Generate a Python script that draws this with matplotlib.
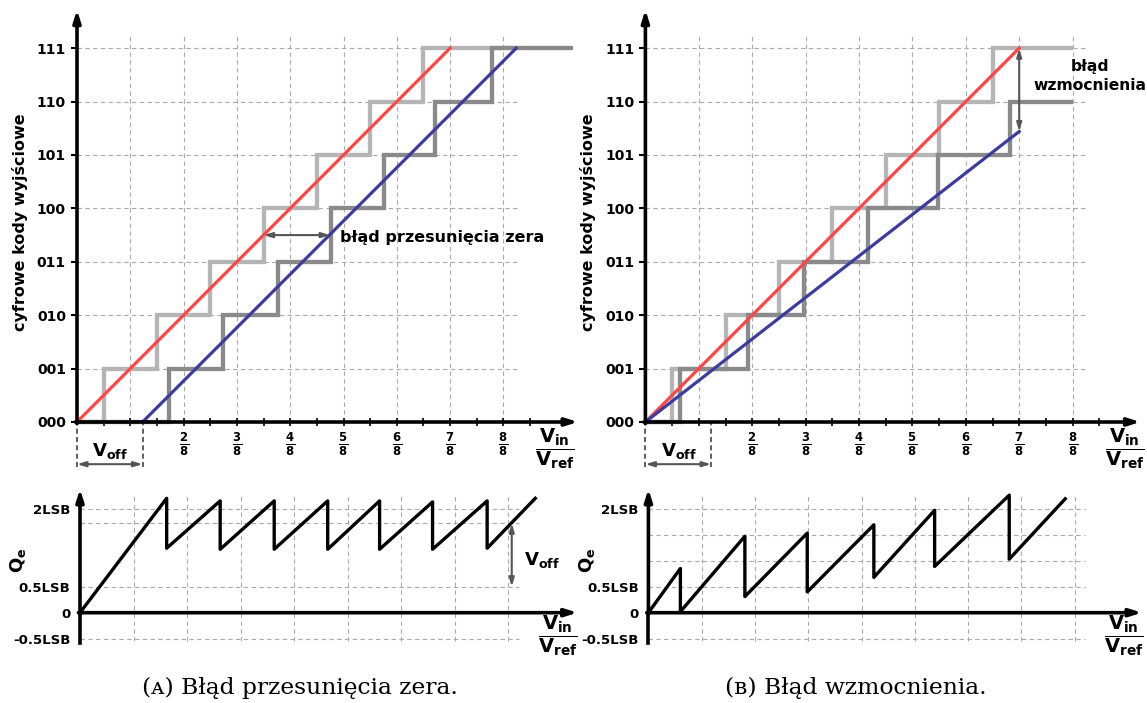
import numpy as np
import matplotlib.pyplot as plt

W, H = 1147, 703

# kody wyjsciowe przetwornika 3-bitowego, os x w jednostkach 1/8 Vref
kody = [0, 1, 2, 3, 4, 5, 6, 7]
kody_etykiety = ['000', '001', '010', '011', '100', '101', '110', '111']
ulamki = [2, 3, 4, 5, 6, 7, 8]
ulamki_etykiety = [r'$\mathbf{\frac{%d}{8}}$' % u for u in ulamki]

# charakterystyka idealna (progi przejsc)
progi_idealne = [0.5, 1.5, 2.5, 3.5, 4.5, 5.5, 6.5]
linia_idealna_x = [0, 7]
linia_idealna_y = [0, 7]

# (A) blad przesuniecia zera
v_off = 1.23
progi_offset = [1.72, 2.74, 3.77, 4.76, 5.76, 6.72, 7.78]
linia_offset_x = [1.23, 8.24]
linia_offset_y = [0, 7]

# (B) blad wzmocnienia
progi_wzm = [0.655, 1.93, 2.97, 4.16, 5.48, 6.83]
linia_wzm_x = [0, 7]
linia_wzm_y = [0, 5.44]

# blad kwantyzacji Qe [LSB]
qe_a_x = [0, 1.62, 1.62, 2.62, 2.62, 3.63, 3.63, 4.63, 4.63, 5.60, 5.60,
          6.59, 6.59, 7.61, 7.61, 8.51]
qe_a_y = [0, 2.2, 1.24, 2.15, 1.22, 2.15, 1.22, 2.15, 1.22, 2.15, 1.22,
          2.13, 1.22, 2.15, 1.24, 2.2]
qe_b_x = [0, 0.60, 0.60, 1.81, 1.81, 2.98, 2.98, 4.23, 4.23, 5.37, 5.37,
          6.77, 6.77, 7.82]
qe_b_y = [0, 0.85, 0.02, 1.47, 0.31, 1.53, 0.40, 1.69, 0.68, 1.97, 0.89,
          2.26, 1.03, 2.19]
qe_ticks = [-0.5, 0, 0.5, 2]
qe_etykiety = ['-0.5LSB', '0', '0.5LSB', '2LSB']
qe_siatka_a = [-0.5, 0.5, 1.72, 2]
qe_siatka_b = [-0.5, 0.5, 1.0, 1.5, 2]

JASNY = '#b5b5b5'
CIEMNY = '#8a8a8a'
CZERWONY = '#ff4545'
NIEBIESKI = '#3c3c9e'
SZARY = '#555555'
SIATKA = dict(color='#aaaaaa', lw=0.8, linestyles=(0, (4, 3)), zorder=1)

fig = plt.figure(figsize=(W / 100, H / 100), dpi=100)


def osie(x0, y0, sx, sy, xlim, ylim):
    left = x0 + xlim[0] * sx
    right = x0 + xlim[1] * sx
    top = y0 - ylim[1] * sy
    bottom = y0 - ylim[0] * sy
    ax = fig.add_axes([left / W, 1 - bottom / H, (right - left) / W, (bottom - top) / H])
    ax.set_xlim(xlim)
    ax.set_ylim(ylim)
    ax.patch.set_visible(False)
    for s in ax.spines.values():
        s.set_visible(False)
    ax.spines['left'].set_position(('data', 0))
    ax.spines['bottom'].set_position(('data', 0))
    return ax


def strzalki_osi(ax, xmax, ymin, ymax):
    st = dict(arrowstyle='-|>,head_length=0.7,head_width=0.22', lw=2.6, color='black',
              shrinkA=0, shrinkB=0)
    ax.annotate('', xy=(xmax, 0), xytext=(-0.03, 0), arrowprops=st, zorder=6)
    ax.annotate('', xy=(0, ymax), xytext=(0, ymin), arrowprops=st, zorder=6)


def schody(ax, progi, koniec, kolor, z):
    xs = [0] + progi + [koniec]
    ys = list(range(len(progi) + 1)) + [len(progi)]
    ax.step(xs, ys, where='post', color=kolor, lw=3.1, zorder=z,
            solid_joinstyle='miter', solid_capstyle='butt')


def gora(ax, xmax):
    ax.hlines(kody[1:], 0, 8.25, **SIATKA)
    ax.vlines(range(1, 9), 0, 7.25, **SIATKA)
    strzalki_osi(ax, xmax, -0.03, 7.72)
    ax.set_yticks(kody)
    ax.set_yticklabels(kody_etykiety, fontsize=10, fontweight='bold')
    ax.set_xticks(ulamki)
    ax.set_xticklabels(ulamki_etykiety, fontsize=12)
    ax.set_xticks(np.arange(0.5, 9, 0.5), minor=True)
    ax.tick_params(axis='y', direction='out', length=4, width=1.5, pad=4)
    ax.tick_params(axis='x', which='both', direction='inout', length=6, width=1.2, pad=3)
    ax.text(-1.07, 3.75, 'cyfrowe kody wyjściowe', rotation=90, ha='center', va='center',
            fontsize=11.5, fontweight='bold')
    ax.text(8.97, -0.5, r'$\mathbf{\dfrac{V_{in}}{V_{ref}}}$', ha='center', va='center',
            fontsize=14)
    # V_off pod osia
    ax.vlines([0, v_off], -0.84, 0, color='#444444', lw=1.2, linestyles=(0, (3, 2)), zorder=2)
    ax.annotate('', xy=(0, -0.79), xytext=(v_off, -0.79),
                arrowprops=dict(arrowstyle='<|-|>,head_length=0.5,head_width=0.15', lw=1.5,
                                color=SZARY, shrinkA=0, shrinkB=0))
    ax.text(0.62, -0.55, r'$\mathbf{V_{off}}$', ha='center', va='center', fontsize=13)


def dol(ax, xmax, siatka):
    ax.hlines(siatka, 0, 8.2, **SIATKA)
    ax.vlines(range(1, 9), -0.55, 2.25, **SIATKA)
    ax.plot([0, 0], [-0.58, 0], color='black', lw=2.6, zorder=6)
    strzalki_osi(ax, xmax, -0.03, 2.38)
    ax.set_yticks(qe_ticks)
    ax.set_yticklabels(qe_etykiety, fontsize=9.5, fontweight='bold')
    ax.set_xticks([])
    ax.tick_params(axis='y', length=0, pad=7)
    ax.text(-1.15, 1.0, r'$\mathbf{Q_e}$', rotation=90, ha='center', va='center', fontsize=13)
    ax.text(8.93, -0.45, r'$\mathbf{\dfrac{V_{in}}{V_{ref}}}$', ha='center', va='center',
            fontsize=14)


# (A) gora
ax1 = osie(77, 422, 53.3, 53.4, (-0.3, 9.6), (-1.0, 7.75))
gora(ax1, 9.4)
schody(ax1, progi_idealne, 8.25, JASNY, 2)
schody(ax1, progi_offset, 9.3, CIEMNY, 3)
ax1.plot(linia_idealna_x, linia_idealna_y, color=CZERWONY, lw=2.3, zorder=4)
ax1.plot(linia_offset_x, linia_offset_y, color=NIEBIESKI, lw=2.3, zorder=4)
ax1.annotate('', xy=(3.5, 3.5), xytext=(4.75, 3.5),
             arrowprops=dict(arrowstyle='<|-|>,head_length=0.5,head_width=0.15', lw=1.5,
                             color=SZARY, shrinkA=0, shrinkB=0), zorder=5)
ax1.text(4.93, 3.45, 'błąd przesunięcia zera', ha='left', va='center', fontsize=11.5,
         fontweight='bold')

# (B) gora
ax2 = osie(645.4, 422, 53.4, 53.4, (-0.3, 9.35), (-1.0, 7.75))
gora(ax2, 9.27)
schody(ax2, progi_idealne, 8.0, JASNY, 2)
schody(ax2, progi_wzm, 8.0, CIEMNY, 3)
ax2.plot(linia_idealna_x, linia_idealna_y, color=CZERWONY, lw=2.3, zorder=4)
ax2.plot(linia_wzm_x, linia_wzm_y, color=NIEBIESKI, lw=2.3, zorder=4)
ax2.annotate('', xy=(7, 7), xytext=(7, 5.44),
             arrowprops=dict(arrowstyle='<|-|>,head_length=0.5,head_width=0.15', lw=1.5,
                             color=SZARY, shrinkA=0, shrinkB=0), zorder=5)
ax2.text(8.32, 6.48, 'błąd\nwzmocnienia', ha='center', va='center', fontsize=11.2,
         fontweight='bold', linespacing=1.3)

# (A) dol
ax3 = osie(80, 612.7, 53.5, 52, (-0.3, 9.6), (-0.75, 2.45))
dol(ax3, 9.3, qe_siatka_a)
ax3.plot(qe_a_x, qe_a_y, color='black', lw=2.4, zorder=5)
ax3.annotate('', xy=(8.07, 1.72), xytext=(8.07, 0.5),
             arrowprops=dict(arrowstyle='<|-|>,head_length=0.5,head_width=0.15', lw=1.5,
                             color=SZARY, shrinkA=0, shrinkB=0), zorder=5)
ax3.text(8.3, 1.01, r'$\mathbf{V_{off}}$', ha='left', va='center', fontsize=13)

# (B) dol
ax4 = osie(648.4, 612.7, 53.3, 52, (-0.3, 9.3), (-0.75, 2.45))
dol(ax4, 9.26, qe_siatka_b)
ax4.plot(qe_b_x, qe_b_y, color='black', lw=2.4, zorder=5)

# podpisy
fig.text(300 / W, 1 - 688 / H, '(ᴀ) Błąd przesunięcia zera.', ha='center', va='center',
         fontsize=16.8, family=['DejaVu Serif'])
fig.text(856 / W, 1 - 688 / H, '(ʙ) Błąd wzmocnienia.', ha='center', va='center',
         fontsize=16.8, family=['DejaVu Serif'])

fig.savefig('out.png', dpi=100)
